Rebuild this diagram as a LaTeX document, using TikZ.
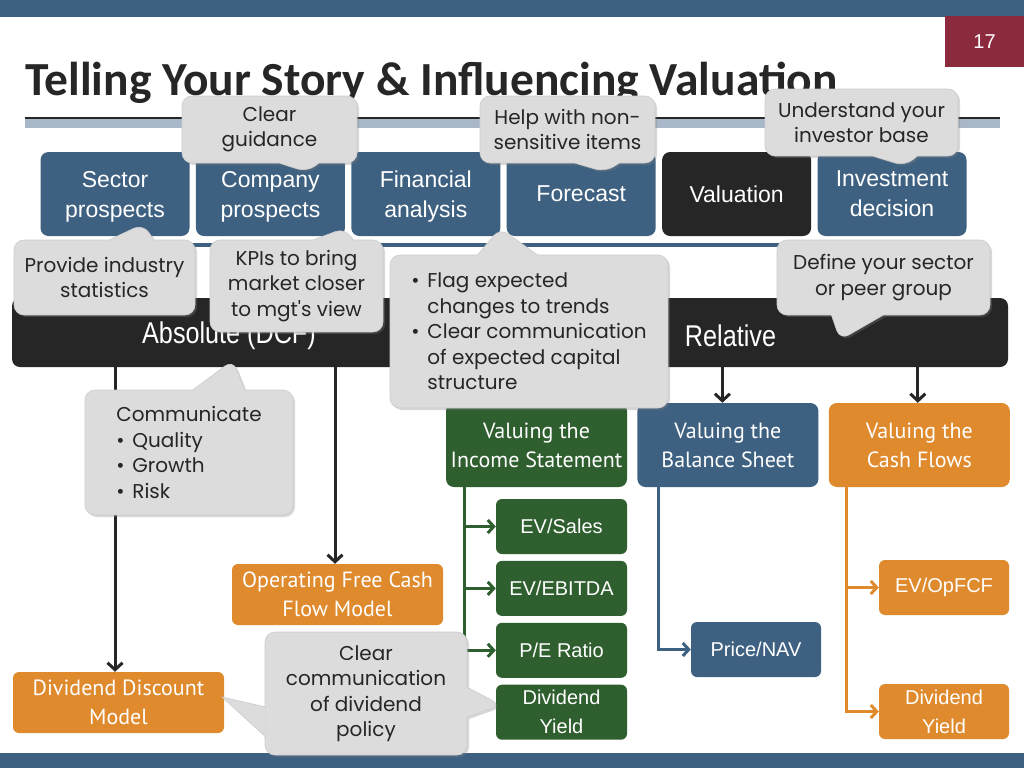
\documentclass[tikz,border=0pt]{standalone}
\usepackage{fontspec}
\setmainfont{Liberation Sans}
\newfontfamily\titlefont{Carlito}
\newfontfamily\notefont{Poppins}
\newfontfamily\twfont{PT Sans}
\newfontfamily\narrowfont[FakeStretch=0.84]{Liberation Sans}
\usepackage{tikz}
\usetikzlibrary{positioning}
\usetikzlibrary{shapes.callouts, shadows, arrows.meta}
\definecolor{slate}{HTML}{3E6182}
\definecolor{ink}{HTML}{262626}
\definecolor{leaf}{HTML}{2F5F2F}
\definecolor{amber}{HTML}{E08A2E}
\definecolor{wine}{HTML}{8C2A3D}
\definecolor{mist}{HTML}{DCDCDC}
\definecolor{haze}{HTML}{A9B8C8}
\newcommand{\bul}{\makebox[16pt][l]{\textbullet}}
\newcommand{\ind}{\hspace*{16pt}}
\tikzset{
stepbox/.style={rectangle, rounded corners=8pt, fill=slate, text=white, inner sep=0pt, minimum width=149pt, minimum height=84pt, align=center, text depth=0pt, font=\fontsize{23}{30}\selectfont},
valbox/.style={rectangle, rounded corners=8pt, text=white, inner sep=0pt, minimum width=181pt, minimum height=84pt, align=center, font=\twfont\fontsize{22}{29}\selectfont},
multbox/.style={rectangle, rounded corners=6pt, text=white, inner sep=0pt, minimum width=131pt, minimum height=55pt, align=center, font=\fontsize{20}{29}\selectfont},
modelbox/.style={rectangle, rounded corners=6pt, fill=amber, text=white, inner sep=0pt, minimum width=211pt, minimum height=61pt, align=center, font=\twfont\fontsize{22}{29}\selectfont},
note/.style={rectangle callout, rounded corners=10pt, fill=mist, draw=black!20, line width=0.6pt, inner sep=0pt, align=center, text=black!85, font=\notefont\fontsize{20}{25.5}\selectfont, drop shadow={opacity=0.3, shadow xshift=2pt, shadow yshift=-2pt}},
karrow/.style={draw=ink, line width=3pt, -{Straight Barb[length=7pt,width=15pt]}},
gline/.style={draw=leaf, line width=3pt, -{Straight Barb[length=6pt,width=13pt]}},
bline/.style={draw=slate, line width=3pt, -{Straight Barb[length=6pt,width=13pt]}},
oline/.style={draw=amber, line width=3pt, -{Straight Barb[length=6pt,width=13pt]}}
}
\begin{document}
\begin{tikzpicture}[x=1pt,y=-1pt]
\useasboundingbox (0,0) rectangle (1024,768);
\fill[white] (0,0) rectangle (1024,768);
\fill[slate] (0,0) rectangle (1024,17);
\fill[slate] (0,753) rectangle (1024,768);
\node[fill=wine, text=white, minimum width=79pt, minimum height=51pt, inner sep=0pt, font=\fontsize{20}{24}\selectfont] (pageno) at (984.5,41.5) {17};
\node[anchor=base west, inner sep=0pt, text=black!85, font=\titlefont\bfseries\fontsize{47.5}{50}\selectfont] (title) at (25,95) {Telling Your Story \& Influencing Valuation};
\draw[ink, line width=1.2pt] (25,118) -- (1000,118);
\fill[haze] (25,119) rectangle (1000,128);

\node[stepbox] (sector) at (115,194) {Sector\\prospects};
\node[stepbox, right=6pt of sector] (company) {Company\\prospects};
\node[stepbox, right=6pt of company] (financial) {Financial\\analysis};
\node[stepbox, right=6pt of financial] (forecast) {Forecast};
\node[stepbox, right=6pt of forecast, fill=ink] (valuation) {Valuation};
\node[stepbox, right=6pt of valuation] (invest) {Investment\\decision};
\draw[slate, line width=4pt] ([yshift=-9pt]sector.south west) -- ([yshift=-9pt]invest.south east);

\node[fill=ink, rounded corners=8pt, minimum width=996pt, minimum height=69pt, inner sep=0pt] (bar) at (510,332.5) {};
\node[text=white, font=\narrowfont\fontsize{30}{36}\selectfont] (absolute) at (229,336) {Absolute (DCF)};
\node[text=white, font=\narrowfont\fontsize{30}{36}\selectfont] (relative) at (730.5,336) {Relative};

\node[valbox, fill=leaf] (inc) at (536.5,445) {Valuing the\\Income Statement};
\node[valbox, fill=slate, right=10pt of inc] (bal) {Valuing the\\Balance Sheet};
\node[valbox, fill=amber, right=10pt of bal] (cash) {Valuing the\\Cash Flows};

\node[multbox, fill=leaf] (evsales) at (561.5,526.5) {EV/Sales};
\node[multbox, fill=leaf, below=6.5pt of evsales] (evebitda) {EV/EBITDA};
\node[multbox, fill=leaf, below=6.5pt of evebitda] (pe) {P/E Ratio};
\node[multbox, fill=leaf, below=6.5pt of pe] (gdy) {Dividend\\Yield};
\node[multbox, fill=slate, minimum width=130pt] (pnav) at (756,649.5) {Price/NAV};
\node[multbox, fill=amber, minimum width=130pt] (opfcf) at (944,587.5) {EV/OpFCF};
\node[multbox, fill=amber, minimum width=130pt] (cdy) at (944,711.5) {Dividend\\Yield};

\node[modelbox] (opfcm) at (337.5,594.5) {Operating Free Cash\\Flow Model};
\node[modelbox] (ddm) at (118.5,702.5) {Dividend Discount\\Model};

\draw[karrow] ([xshift=-3.5pt]ddm.north |- bar.south) -- ([xshift=-3.5pt]ddm.north);
\draw[karrow] ([xshift=-2.5pt]opfcm.north |- bar.south) -- ([xshift=-2.5pt]opfcm.north);
\draw[karrow] ([xshift=-5.5pt]bal.north |- bar.south) -- ([xshift=-5.5pt]bal.north);
\draw[karrow] ([xshift=-1.5pt]cash.north |- bar.south) -- ([xshift=-1.5pt]cash.north);
\foreach \n in {evsales,evebitda,pe} \draw[gline] ([xshift=19pt]inc.south west) |- (\n);
\draw[bline] ([xshift=21pt]bal.south west) |- (pnav);
\foreach \n in {opfcf,cdy} \draw[oline] ([xshift=18pt]cash.south west) |- (\n);

\node[note, minimum width=175pt, minimum height=67pt, callout absolute pointer={(307,172)}, callout pointer width=40pt] (guide) at (269.5,129.5) {Clear\\guidance};
\node[note, minimum width=175pt, minimum height=67pt, callout absolute pointer={(605,172)}, callout pointer width=45pt] (help) at (567.5,129.5) {Help with non-\\sensitive items};
\node[note, minimum width=193pt, minimum height=67pt, callout absolute pointer={(905,166)}, callout pointer width=45pt] (investor) at (861.5,122.5) {Understand your\\investor base};
\node[note, minimum width=181pt, minimum height=75pt, callout absolute pointer={(143,224)}, callout pointer width=45pt] (industry) at (104.5,277.5) {Provide industry\\statistics};
\node[note, minimum width=173pt, minimum height=92pt, callout absolute pointer={(345,228)}, callout pointer width=40pt] (kpi) at (296.5,286) {KPIs to bring\\market closer\\to mgt's view};
\node[note, minimum width=278pt, minimum height=153pt, align=left, callout absolute pointer={(500,228)}, callout pointer width=60pt] (flag) at (529,331.5) {\bul Flag expected\\\ind changes to trends\\\bul Clear communication\\\ind of expected capital\\\ind structure};
\node[note, minimum width=213pt, minimum height=75pt, callout absolute pointer={(840,340)}, callout pointer width=52pt] (peer) at (883.5,277.5) {Define your sector\\or peer group};
\node[note, minimum width=208pt, minimum height=125pt, align=left, callout absolute pointer={(233,360)}, callout pointer width=52pt] (comm) at (189,452.5) {Communicate\\\bul Quality\\\bul Growth\\\bul Risk};
\node[note, minimum width=202pt, minimum height=123pt, callout absolute pointer={(501,705)}, callout pointer width=30pt] (divpol) at (366,693.5) {Clear\\communication\\of dividend\\policy};
\coordinate (divtip) at (222,697);
\coordinate (dp1) at ([xshift=1pt,yshift=-13.5pt]divpol.west);
\coordinate (dp2) at ([xshift=1pt,yshift=-43.5pt]divpol.west);
\fill[mist] (dp1) -- (divtip) -- (dp2) -- cycle;
\draw[black!20, line width=0.6pt] (dp1) -- (divtip) -- (dp2);

\end{tikzpicture}
\end{document}
